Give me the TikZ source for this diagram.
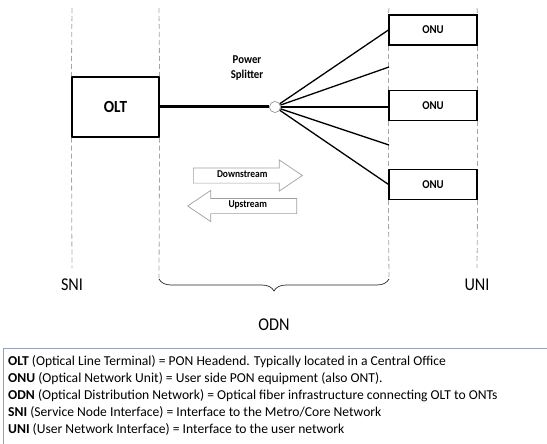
\documentclass[tikz,border=0pt]{standalone}
\usepackage{fontspec}
\setmainfont{Carlito}[FakeStretch=0.9]
\newfontfamily\legendfont{Carlito}
\usetikzlibrary{positioning,shapes.arrows,decorations.pathreplacing}
\definecolor{legendline}{RGB}{150,160,185}

\begin{document}
\begin{tikzpicture}[x=1pt, y=-1pt, node distance=2cm,
	unit/.style = {draw, line width=1.2pt, minimum width=88pt, minimum height=30pt, font=\fontsize{12}{14}\selectfont\bfseries},
	iface/.style = {gray!70, line width=0.8pt, dash pattern=on 5pt off 3pt},
	fiber/.style = {line width=1.3pt},
	flow/.style = {single arrow, draw=gray!75, line width=0.7pt, single arrow head extend=8pt, single arrow tip angle=68, text height=5pt, text depth=1.5pt, inner ysep=4pt, minimum height=109pt, font=\fontsize{10.5}{12}\selectfont\bfseries},
	big/.style = {font=\fontsize{18}{20}\selectfont}]
	\useasboundingbox (0,0) rectangle (547,444);
	\clip (0,0) rectangle (547,444);
	
		\node[unit, minimum width=87pt, minimum height=60pt, font=\fontsize{17}{19}\selectfont\bfseries] (olt) at (115.5,107) {OLT};
		\node[circle, draw=gray, fill=white, minimum size=11pt, inner sep=0pt] (split) at (275,107) {};
		\node[align=center, font=\fontsize{12}{15}\selectfont\bfseries] (splitlbl) at (247,68) {Power\\Splitter};
		
		\node[unit] (onuA) at (433,30) {ONU};
		\node[unit, below=44pt of onuA] (onuB) {ONU};
		\node[unit, below=48pt of onuB] (onuC) {ONU};
		\coordinate (stubA) at (389,67);
		\coordinate (stubB) at (389,145);
		
		% interface lines
		\draw[iface] (72,8) -- (olt.north west);
		\draw[iface] (olt.south west) -- (72,268);
		\draw[iface] (159,8) -- (olt.north east);
		\draw[iface] (olt.south east) -- (159,280);
		\draw[iface] (389,8) -- (onuA.north west);
		\draw[iface] (onuA.south west) -- (onuB.north west);
		\draw[iface] (onuB.south west) -- (onuC.north west);
		\draw[iface] (onuC.south west) -- (389,280);
		\draw[iface] (477,8) -- (onuA.north east);
		\draw[iface] (onuA.south east) -- (onuB.north east);
		\draw[iface] (onuB.south east) -- (onuC.north east);
		\draw[iface] (onuC.south east) -- (477,268);
		
		% fibers
		\draw[line width=3pt] (olt) -- (split);
		\draw[fiber] (split) -- (onuA.west);
		\draw[fiber] (split) -- (stubA);
		\draw[fiber] (split) -- (split -| onuB.west);
		\draw[fiber] (split) -- (stubB);
		\draw[fiber] (split) -- (onuC.west);
		\node[circle, draw=gray, fill=white, minimum size=11pt, inner sep=0pt] at (split) {};
		
		\node[flow, anchor=tail] (down) at (193,175.5) {Downstream};
		\node[flow, shape border rotate=180, anchor=tail] (up) at (297,206) {Upstream};
		
		\node[big] (sni) at (72,285) {SNI};
		\node[big] (uni) at (477,285) {UNI};
		\draw[gray!30!black, line width=0.7pt, decorate, decoration={brace, mirror, amplitude=12pt}] (159,279) -- (389,279);
		\node[big] (odn) at (274,325) {ODN};
		
		% legend
		\draw[legendline, line width=0.8pt] (3,348) rectangle (560,460);
		\node[anchor=north west, align=left, inner sep=0pt, font=\legendfont\fontsize{13.6}{17}\selectfont] (legend) at (8,355)
			{\textbf{OLT} (Optical Line Terminal) = PON Headend. Typically located in a Central Office\\
			\textbf{ONU} (Optical Network Unit) = User side PON equipment (also ONT).\\
			\textbf{ODN} (Optical Distribution Network) = Optical fiber infrastructure connecting OLT to ONTs\\
			\textbf{SNI} (Service Node Interface) = Interface to the Metro/Core Network\\
			\textbf{UNI} (User Network Interface) = Interface to the user network};
	\end{tikzpicture}
\end{document}
